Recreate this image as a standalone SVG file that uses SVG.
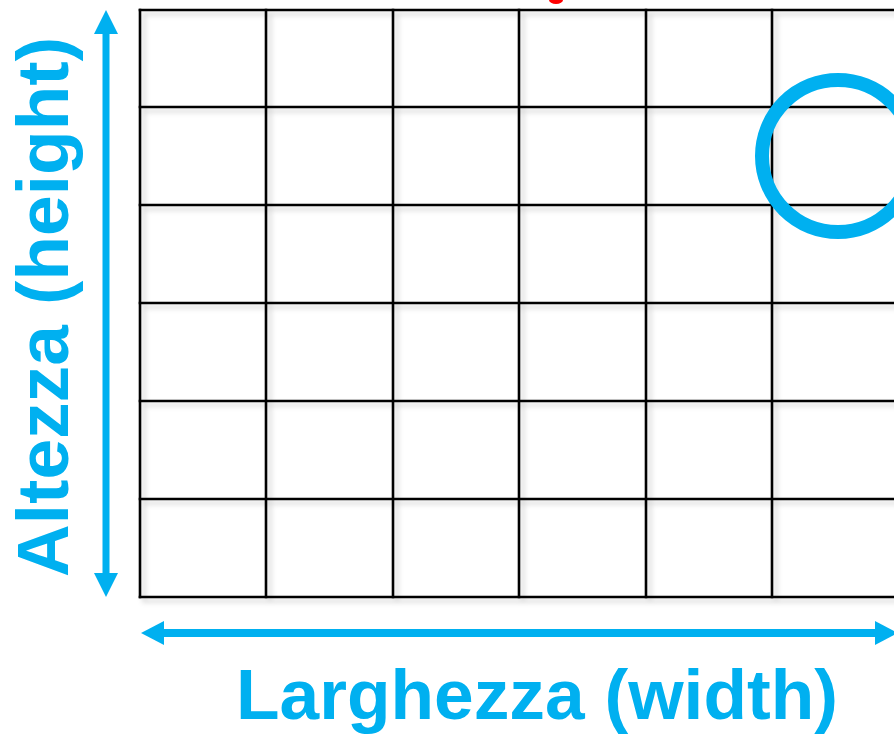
<svg xmlns="http://www.w3.org/2000/svg" width="894" height="736" viewBox="0 0 894 736">
<style>
.grid line{stroke:#000;stroke-width:2.6;stroke-linecap:square}
.blue{fill:#00B0F0}
.lbl{font-family:"Liberation Sans",Arial,sans-serif;font-weight:bold;fill:#00B0F0}
</style>
<defs>
<filter id="sh" x="-5%" y="-5%" width="110%" height="110%">
<feDropShadow dx="4" dy="4" stdDeviation="2.5" flood-color="#000" flood-opacity="0.18"/>
</filter>
</defs>
<rect width="894" height="736" fill="#fff"/>
<g id="grid" class="grid" filter="url(#sh)">
<line x1="140" y1="10" x2="898" y2="10"/>
<line x1="140" y1="107" x2="898" y2="107"/>
<line x1="140" y1="205" x2="898" y2="205"/>
<line x1="140" y1="303" x2="898" y2="303"/>
<line x1="140" y1="401" x2="898" y2="401"/>
<line x1="140" y1="499" x2="898" y2="499"/>
<line x1="140" y1="597" x2="898" y2="597"/>
<line x1="140" y1="10" x2="140" y2="597"/>
<line x1="266" y1="10" x2="266" y2="597"/>
<line x1="393" y1="10" x2="393" y2="597"/>
<line x1="519" y1="10" x2="519" y2="597"/>
<line x1="646" y1="10" x2="646" y2="597"/>
<line x1="772" y1="10" x2="772" y2="597"/>
</g>
<g id="marker-top">
<ellipse cx="556" cy="0" rx="7" ry="4" fill="#FF0000"/>
</g>
<g id="circle">
<circle cx="838" cy="156" r="76" fill="none" stroke="#00B0F0" stroke-width="14"/>
</g>
<g id="connectors">
<g id="height-arrow">
<rect x="102.5" y="30" width="7" height="547" class="blue"/>
<polygon points="106,10 94,34 118,34" class="blue"/>
<polygon points="106,597 94,573 118,573" class="blue"/>
</g>
<g id="width-arrow">
<rect x="160" y="629" width="720" height="8" class="blue"/>
<polygon points="141,633 164,621 164,645" class="blue"/>
<polygon points="898,633 875,621 875,645" class="blue"/>
</g>
</g>
<g id="label-width">
<text class="lbl" x="236" y="719" font-size="71" textLength="602" lengthAdjust="spacingAndGlyphs">Larghezza (width)</text>
</g>
<g id="label-height">
<text class="lbl" transform="translate(68,577) rotate(-90)" x="0" y="0" font-size="72" textLength="540" lengthAdjust="spacingAndGlyphs">Altezza (height)</text>
</g>
</svg>
